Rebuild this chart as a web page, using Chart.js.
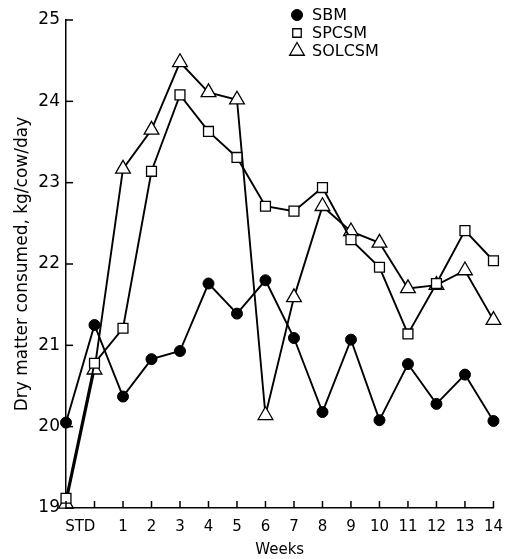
<!DOCTYPE html>
<html>
<head>
<meta charset="utf-8">
<title>Dry matter consumed</title>
<script src="https://cdn.jsdelivr.net/npm/chart.js@4.4.1/dist/chart.umd.min.js"></script>
<style>
  html, body { margin: 0; padding: 0; background: #fff; }
  #wrap { width: 513px; height: 559px; }
</style>
</head>
<body>
<div id="wrap"><canvas id="chart"></canvas></div>
<script>
// positions 0,1 belong to the standardization period (STD), then weeks 1..14
const weekLabels = ['', '', '1', '2', '3', '4', '5', '6', '7', '8', '9', '10', '11', '12', '13', '14']
const stdLabel = 'STD'
const yTicks = [19, 20, 21, 22, 23, 24, 25]

const sbm = [20.05, 21.25, 20.37, 20.83, 20.93, 21.76, 21.39, 21.8, 21.09, 20.18, 21.07, 20.08, 20.77, 20.28, 20.64, 20.07]
const spcsm = [19.12, 20.78, 21.21, 23.14, 24.08, 23.63, 23.31, 22.71, 22.65, 22.94, 22.3, 21.96, 21.14, 21.76, 22.41, 22.04]
const solcsm = [19.05, 20.7, 23.17, 23.65, 24.48, 24.11, 24.02, 20.14, 21.59, 22.71, 22.4, 22.26, 21.7, 21.74, 21.92, 21.31]

const toPoints = arr => arr.map((v, i) => ({ x: i, y: v }))

const font = "'DejaVu Sans', sans-serif"

// tick marks point inward like the printed figure
const innerTicks = {
    id: 'innerTicks',
    afterDraw(chart) {
        const { ctx, chartArea, scales: { x, y } } = chart
        ctx.save()
        ctx.strokeStyle = '#000'
        ctx.lineWidth = 1.5
        yTicks.forEach(v => {
            const py = y.getPixelForValue(v)
            ctx.beginPath()
            ctx.moveTo(chartArea.left, py)
            ctx.lineTo(chartArea.left + 7, py)
            ctx.stroke()
        })
        weekLabels.forEach((_, i) => {
            const px = x.getPixelForValue(i)
            ctx.beginPath()
            ctx.moveTo(px, chartArea.bottom)
            ctx.lineTo(px, chartArea.bottom - 7)
            ctx.stroke()
        })
        ctx.restore()
    }
}

// legend drawn inside the plot, top right
const insideLegend = {
    id: 'insideLegend',
    afterDraw(chart) {
        const { ctx } = chart
        ctx.save()
        ctx.font = '16px ' + font
        ctx.textBaseline = 'middle'
        ctx.textAlign = 'left'
        chart.data.datasets.forEach((ds, i) => {
            const cy = 15 + i * 18
            const cx = 297
            const style = {
                pointStyle: ds.pointStyle,
                rotation: 0,
                radius: ds.legendRadius,
                borderWidth: ds.pointBorderWidth
            }
            ctx.fillStyle = ds.pointBackgroundColor
            ctx.strokeStyle = ds.pointBorderColor
            ctx.lineWidth = ds.pointBorderWidth
            Chart.helpers.drawPoint(ctx, style, cx, cy)
            ctx.fillStyle = '#000'
            ctx.fillText(ds.label, 312, cy + 1)
        })
        ctx.restore()
    }
}

new Chart(document.getElementById('chart'), {
    type: 'line',
    data: {
        datasets: [
            {
                label: 'SBM',
                data: toPoints(sbm),
                borderColor: '#000',
                borderWidth: 1.9,
                clip: false,
                pointStyle: 'circle',
                pointRadius: 5.5,
                legendRadius: 5.5,
                pointBackgroundColor: '#000',
                pointBorderColor: '#000',
                pointBorderWidth: 1
            },
            {
                label: 'SPCSM',
                data: toPoints(spcsm),
                borderColor: '#000',
                borderWidth: 1.9,
                clip: false,
                pointStyle: 'rect',
                pointRadius: 7,
                legendRadius: 6,
                pointBackgroundColor: '#fff',
                pointBorderColor: '#000',
                pointBorderWidth: 1.3
            },
            {
                label: 'SOLCSM',
                data: toPoints(solcsm),
                borderColor: '#000',
                borderWidth: 1.9,
                clip: false,
                pointStyle: 'triangle',
                pointRadius: 8.5,
                legendRadius: 8.5,
                pointBackgroundColor: '#fff',
                pointBorderColor: '#000',
                pointBorderWidth: 1.3
            }
        ]
    },
    options: {
        responsive: true,
        maintainAspectRatio: false,
        animation: false,
        layout: { padding: { left: 0, right: 10, top: 20, bottom: 0 } },
        plugins: {
            legend: { display: false },
            tooltip: { enabled: false }
        },
        scales: {
            x: {
                type: 'linear',
                min: 0,
                max: weekLabels.length - 1,
                afterBuildTicks: scale => {
                    const t = [{ value: 0.5 }]
                    weekLabels.forEach((lab, i) => { if (lab) t.push({ value: i }) })
                    scale.ticks = t
                },
                afterFit: scale => { scale.height = 51 },
                grid: { display: false, drawTicks: false },
                border: { display: true, color: '#000', width: 1.5 },
                ticks: {
                    autoSkip: false,
                    maxRotation: 0,
                    padding: 10,
                    color: '#000',
                    font: { family: font, size: 15 },
                    callback: v => v === 0.5 ? stdLabel : weekLabels[v]
                },
                title: {
                    display: true,
                    text: 'Weeks',
                    color: '#000',
                    font: { family: font, size: 15 },
                    padding: { top: 2, bottom: 0 }
                }
            },
            y: {
                min: 19,
                max: 25,
                afterBuildTicks: scale => { scale.ticks = yTicks.map(v => ({ value: v })) },
                afterFit: scale => { scale.width = 66 },
                grid: { display: false, drawTicks: false },
                border: { display: true, color: '#000', width: 1.5 },
                ticks: {
                    padding: 6,
                    color: '#000',
                    font: { family: font, size: 17 }
                },
                title: {
                    display: true,
                    text: 'Dry matter consumed, kg/cow/day',
                    color: '#000',
                    font: { family: font, size: 17 },
                    padding: { top: 12, bottom: 0 }
                }
            }
        }
    },
    plugins: [innerTicks, insideLegend]
})
</script>
</body>
</html>
